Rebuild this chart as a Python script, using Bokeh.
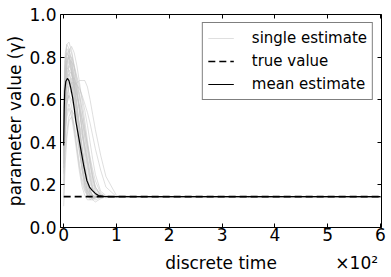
from bokeh.plotting import figure
from bokeh.models import FixedTicker, LinearAxis, Range1d, Legend, LegendItem
from bokeh.embed import file_html
from bokeh.resources import INLINE

# ---------------- data ----------------
t_grid = [0, 3, 6, 10, 15, 20, 25, 30, 35, 40, 45, 50, 55, 60, 70, 80, 100, 150, 250, 350, 450, 600]

single_estimates = [
    [.40, .70, .80, .84, .82, .75, .66, .55, .44, .33, .24, .18, .15, .14, .145, .145, .146, .144, .145, .146, .145, .145],
    [.35, .62, .72, .76, .73, .66, .57, .47, .37, .28, .21, .17, .15, .145, .144, .145, .145, .146, .144, .145, .145, .145],
    [.30, .55, .65, .68, .64, .56, .46, .36, .27, .20, .16, .14, .14, .143, .145, .146, .145, .145, .145, .144, .145, .145],
    [.45, .78, .86, .87, .83, .76, .68, .60, .51, .42, .33, .25, .19, .16, .145, .144, .145, .145, .146, .145, .145, .145],
    [.25, .48, .58, .62, .57, .47, .37, .28, .21, .17, .15, .14, .145, .145, .145, .145, .145, .146, .145, .145, .144, .145],
    [.50, .74, .80, .79, .72, .62, .50, .38, .27, .19, .15, .14, .14, .145, .145, .145, .145, .144, .145, .145, .145, .145],
    [.38, .60, .70, .76, .78, .75, .70, .63, .55, .46, .38, .30, .23, .18, .15, .145, .145, .145, .145, .145, .146, .145],
    [.20, .42, .52, .56, .52, .44, .35, .26, .19, .15, .13, .13, .14, .145, .145, .145, .145, .145, .144, .145, .145, .145],
    [.42, .68, .76, .80, .80, .76, .71, .66, .61, .55, .48, .40, .32, .25, .17, .15, .145, .145, .145, .146, .145, .145],
    [.33, .58, .66, .70, .66, .58, .48, .38, .29, .22, .17, .15, .145, .145, .145, .145, .145, .145, .145, .145, .145, .145],
    [.55, .80, .84, .82, .74, .63, .51, .40, .30, .22, .17, .15, .145, .145, .145, .145, .145, .145, .146, .145, .145, .145],
    [.28, .50, .60, .66, .68, .66, .62, .57, .51, .45, .39, .33, .27, .22, .16, .145, .145, .145, .145, .145, .145, .145],
    [.36, .64, .74, .78, .74, .66, .56, .45, .34, .25, .18, .15, .14, .14, .145, .145, .145, .145, .145, .144, .145, .145],
    [.30, .52, .60, .62, .60, .56, .52, .48, .43, .38, .32, .26, .21, .17, .145, .14, .145, .145, .145, .145, .145, .145],
    [.15, .35, .45, .52, .55, .53, .48, .41, .33, .26, .20, .16, .14, .13, .14, .145, .145, .145, .145, .145, .145, .145],
    [.48, .72, .78, .80, .77, .71, .63, .54, .45, .36, .28, .21, .17, .15, .145, .145, .145, .145, .145, .145, .145, .145],
    [.40, .66, .76, .82, .85, .82, .76, .68, .59, .50, .41, .32, .25, .19, .15, .145, .145, .145, .145, .145, .145, .145],
    [.26, .46, .54, .58, .54, .46, .38, .30, .23, .18, .15, .13, .13, .14, .145, .145, .145, .145, .145, .145, .145, .145],
    [.44, .70, .78, .81, .76, .68, .58, .48, .38, .29, .22, .17, .15, .145, .145, .145, .145, .145, .145, .145, .145, .145],
    [.30, .50, .58, .62, .65, .67, .68, .69, .69, .69, .66, .60, .53, .46, .34, .24, .15, .145, .145, .145, .145, .145],
    [.35, .55, .62, .66, .68, .68, .67, .65, .62, .58, .54, .49, .43, .37, .27, .19, .145, .145, .145, .145, .145, .145],
    [.60, .82, .86, .84, .78, .69, .58, .47, .36, .27, .20, .16, .145, .145, .145, .145, .145, .145, .145, .145, .145, .145],
    [.22, .45, .58, .66, .70, .70, .67, .62, .55, .47, .39, .31, .24, .19, .15, .14, .145, .145, .145, .145, .145, .145],
    [.38, .62, .70, .72, .68, .61, .53, .44, .36, .28, .22, .17, .15, .14, .145, .145, .145, .145, .145, .145, .145, .145],
    [.10, .30, .42, .50, .52, .48, .42, .35, .28, .22, .18, .15, .13, .12, .135, .145, .145, .145, .145, .145, .145, .145],
    [.52, .76, .82, .83, .79, .72, .64, .55, .46, .38, .30, .23, .18, .155, .145, .145, .145, .145, .145, .145, .145, .145],
    [.34, .60, .70, .74, .72, .68, .62, .56, .50, .43, .36, .29, .23, .19, .155, .145, .145, .145, .145, .145, .145, .145],
    [.46, .70, .75, .74, .68, .58, .47, .36, .27, .20, .16, .14, .135, .14, .145, .145, .145, .145, .145, .145, .145, .145],
    [.28, .54, .66, .72, .73, .70, .64, .56, .47, .38, .30, .23, .18, .155, .145, .145, .145, .145, .145, .145, .145, .145],
    [.56, .78, .82, .80, .74, .65, .55, .45, .36, .28, .21, .17, .15, .145, .145, .145, .145, .145, .145, .145, .145, .145],
]

mean_t = [0, 1, 2, 4, 7, 10, 13, 17, 20, 23, 28, 33, 38, 44, 49, 54, 60, 66, 75, 90, 600]
mean_v = [0.385, 0.55, 0.64, 0.685, 0.70, 0.69, 0.66, 0.61, 0.56, 0.50, 0.43, 0.36, 0.29, 0.22,
          0.19, 0.174, 0.16, 0.15, 0.146, 0.145, 0.145]

true_t = [0, 600]
true_v = [0.145, 0.145]

x_ticks = [0, 100, 200, 300, 400, 500, 600]
x_tick_labels = ["0", "1", "2", "3", "4", "5", "6"]
y_ticks = [0.0, 0.2, 0.4, 0.6, 0.8, 1.0]
y_tick_labels = ["0.0", "0.2", "0.4", "0.6", "0.8", "1.0"]

x_title = "discrete time"
x_offset_text = "×10²"
y_title = "parameter value (γ)"

FONT = "DejaVu Sans"
X_LO, X_HI = -6, 602

# ---------------- figure ----------------
p = figure(width=391, height=277, output_backend="svg", toolbar_location=None,
           x_range=Range1d(X_LO, X_HI), y_range=Range1d(0, 1),
           min_border_left=60, min_border_right=10, min_border_top=14, min_border_bottom=50)
p.background_fill_color = "white"
p.border_fill_color = "white"
p.outline_line_color = "black"
p.outline_line_width = 1
p.xgrid.visible = False
p.ygrid.visible = False

r_single = p.multi_line([t_grid] * len(single_estimates), single_estimates,
                        line_color="#c4c4c4", line_alpha=0.55, line_width=1)
r_true = p.line(true_t, true_v, line_color="black", line_width=1.6, line_dash="7 4")
r_mean = p.line(mean_t, mean_v, line_color="black", line_width=1.2)

# axes styling
for ax, ticks, labels in ((p.xaxis[0], x_ticks, x_tick_labels), (p.yaxis[0], y_ticks, y_tick_labels)):
    ax.ticker = FixedTicker(ticks=ticks)
    ax.major_label_overrides = {t: l for t, l in zip(ticks, labels)}
    ax.major_tick_in = 4
    ax.major_tick_out = 0
    ax.minor_tick_line_color = None
    ax.axis_line_color = None
    ax.major_label_text_font = FONT
    ax.major_label_text_font_size = "17px"
    ax.major_label_text_color = "black"
    ax.axis_label_text_font = FONT
    ax.axis_label_text_font_size = "17px"
    ax.axis_label_text_font_style = "normal"
    ax.axis_label_text_color = "black"
    ax.major_tick_line_color = "black"

p.xaxis[0].major_label_standoff = 0
p.yaxis[0].axis_label = y_title
p.yaxis[0].major_label_standoff = 4
p.yaxis[0].axis_label_standoff = 1

# second row below the x tick labels: axis title (centred) and the x10^2 offset text
x_mid = (X_LO + X_HI) / 2
x_off_pos = 555
title_axis = LinearAxis(ticker=FixedTicker(ticks=[x_mid, x_off_pos]),
                        major_label_overrides={x_mid: x_title, x_off_pos: x_offset_text},
                        major_tick_line_color=None, minor_tick_line_color=None,
                        axis_line_color=None, major_label_standoff=3,
                        major_label_text_font=FONT, major_label_text_font_size="17px",
                        major_label_text_color="black")
p.add_layout(title_axis, "below")

for loc, ticks in (("above", x_ticks), ("right", y_ticks)):
    a = LinearAxis(ticker=FixedTicker(ticks=ticks), major_label_text_font_size="0px",
                   major_tick_in=4, major_tick_out=0, minor_tick_line_color=None,
                   axis_line_color=None, major_label_standoff=0, major_tick_line_color="black")
    a.major_label_overrides = {t: "" for t in ticks}
    p.add_layout(a, loc)

legend = Legend(items=[LegendItem(label="single estimate", renderers=[r_single]),
                       LegendItem(label="true value", renderers=[r_true]),
                       LegendItem(label="mean estimate", renderers=[r_mean])],
                location="top_right")
legend.margin = 8
legend.padding = 5
legend.spacing = 3
legend.glyph_width = 26
legend.glyph_height = 20
legend.label_standoff = 18
legend.label_text_font = FONT
legend.label_text_font_size = "15px"
legend.label_text_color = "black"
legend.border_line_color = "black"
legend.border_line_width = 1
legend.background_fill_alpha = 1
p.add_layout(legend)

open("out.html", "w").write(file_html(p, INLINE))
